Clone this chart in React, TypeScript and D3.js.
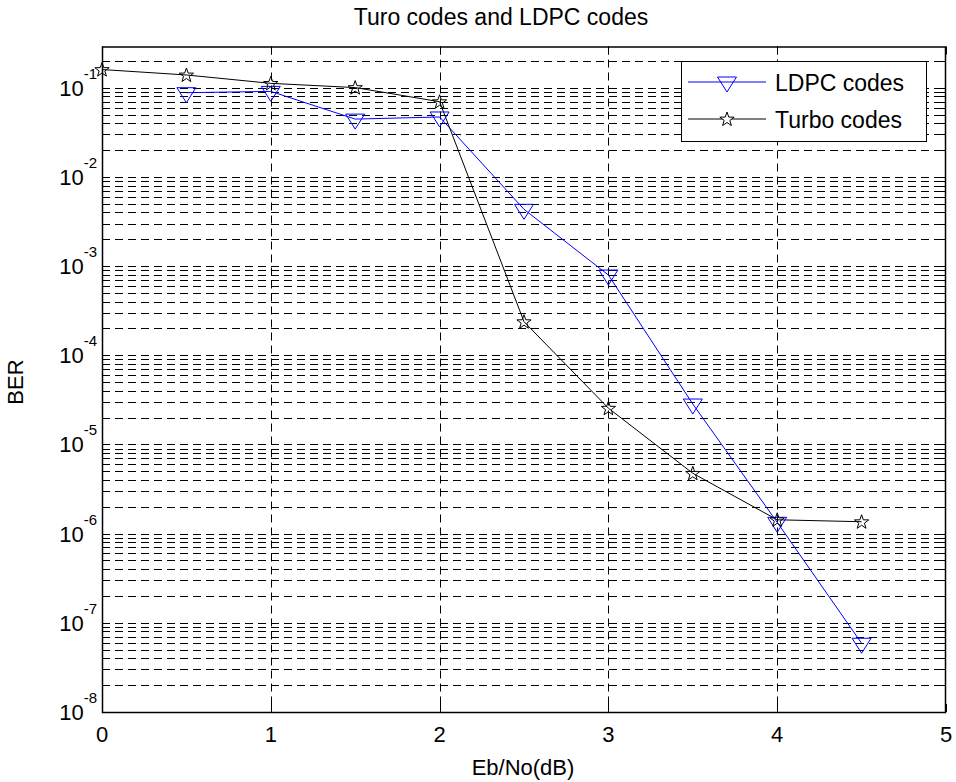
import {useEffect, useRef} from "react";
import * as d3 from "d3";

// Eb/No (dB) values
const turboX = [0, 0.5, 1, 1.5, 2, 2.5, 3, 3.5, 4, 4.5];
const turboBer = [0.16, 0.139, 0.112, 0.1004, 0.0697, 2.38e-4, 2.55e-5, 4.75e-6, 1.43e-6, 1.36e-6];
const ldpcX = [0.5, 1, 1.5, 2, 2.5, 3, 3.5, 4, 4.5];
const ldpcBer = [0.088, 0.091, 0.0445, 0.047, 4.33e-3, 7.94e-4, 2.84e-5, 1.34e-6, 5.9e-8];
const xTicks = [0, 1, 2, 3, 4, 5];
const yExponents = [-8, -7, -6, -5, -4, -3, -2, -1];
const legendNames = ["LDPC codes", "Turbo codes"];

const FONT = "'Liberation Sans', Arial, Helvetica, sans-serif";

const triPath = "M-9.5,-5L9.5,-5L0,10Z";
const starPath = (() => {
    const pts = [];
    for (let i = 0; i < 10; i++) {
        const r = i % 2 === 0 ? 7.5 : 3;
        const a = -Math.PI / 2 + i * Math.PI / 5;
        pts.push([r * Math.cos(a), r * Math.sin(a) + 0.5]);
    }
    return "M" + pts.map(p => p[0].toFixed(2) + "," + p[1].toFixed(2)).join("L") + "Z";
})();

const App = () => {
    const ref = useRef(null);
    const left = 102, right = 946, top = 46.5, bottom = 712;

    useEffect(() => {
        const svg = d3.select(ref.current);
        svg.selectAll("*").remove();

        const x = d3.scaleLinear().domain([0, 5]).range([left, right]);
        const y = d3.scaleLog().domain([1e-8, 0.29]).range([bottom, top]);

        svg.append("rect").attr("x", 0).attr("y", 0).attr("width", 956).attr("height", 782).attr("fill", "white");

        // grid values
        const major = yExponents.map(e => Math.pow(10, e));
        const minor = [];
        yExponents.forEach(e => {
            for (let m = 2; m <= 9; m++) {
                const v = m * Math.pow(10, e);
                if (v < 0.29) minor.push(v);
            }
        });

        const grid = svg.append("g").attr("stroke", "#000").attr("stroke-width", 1)
            .attr("stroke-dasharray", "8,5").attr("fill", "none");
        [...major.slice(1), ...minor].forEach(v => {
            const yy = Math.round(y(v)) + 0.5;
            grid.append("line").attr("x1", left).attr("x2", right).attr("y1", yy).attr("y2", yy);
        });
        xTicks.slice(1, -1).forEach(v => {
            const xx = Math.round(x(v)) + 0.5;
            grid.append("line").attr("x1", xx).attr("x2", xx).attr("y1", top).attr("y2", bottom);
        });

        // tick marks
        const ticks = svg.append("g").attr("stroke", "#000").attr("stroke-width", 1);
        major.forEach(v => {
            const yy = Math.round(y(v)) + 0.5;
            ticks.append("line").attr("x1", left).attr("x2", left + 8).attr("y1", yy).attr("y2", yy);
            ticks.append("line").attr("x1", right).attr("x2", right - 8).attr("y1", yy).attr("y2", yy);
        });
        minor.forEach(v => {
            const yy = Math.round(y(v)) + 0.5;
            ticks.append("line").attr("x1", left).attr("x2", left + 4).attr("y1", yy).attr("y2", yy);
            ticks.append("line").attr("x1", right).attr("x2", right - 4).attr("y1", yy).attr("y2", yy);
        });
        xTicks.forEach(v => {
            const xx = Math.round(x(v)) + 0.5;
            ticks.append("line").attr("x1", xx).attr("x2", xx).attr("y1", bottom).attr("y2", bottom - 8);
            ticks.append("line").attr("x1", xx).attr("x2", xx).attr("y1", top).attr("y2", top + 8);
        });

        // data lines
        const line = d3.line().x(d => x(d[0])).y(d => y(d[1]));
        svg.append("path").datum(ldpcX.map((v, i) => [v, ldpcBer[i]]))
            .attr("d", line).attr("fill", "none").attr("stroke", "#0000ff").attr("stroke-width", 1);
        svg.append("path").datum(turboX.map((v, i) => [v, turboBer[i]]))
            .attr("d", line).attr("fill", "none").attr("stroke", "#000").attr("stroke-width", 1);

        svg.append("g").selectAll("path").data(ldpcX.map((v, i) => [v, ldpcBer[i]])).enter().append("path")
            .attr("d", triPath).attr("transform", d => `translate(${x(d[0])},${y(d[1])})`)
            .attr("fill", "none").attr("stroke", "#0000ff").attr("stroke-width", 1);
        svg.append("g").selectAll("path").data(turboX.map((v, i) => [v, turboBer[i]])).enter().append("path")
            .attr("d", starPath).attr("transform", d => `translate(${x(d[0])},${y(d[1])})`)
            .attr("fill", "none").attr("stroke", "#000").attr("stroke-width", 1);

        // axes box
        svg.append("rect").attr("x", left + 0.5).attr("y", top + 0.5)
            .attr("width", right - left - 1).attr("height", bottom - top)
            .attr("fill", "none").attr("stroke", "#000").attr("stroke-width", 1.5);

        // y tick labels
        yExponents.forEach(e => {
            const yy = y(Math.pow(10, e));
            const t = svg.append("text").attr("x", 97).attr("y", yy + 8).attr("text-anchor", "end")
                .attr("font-family", FONT).attr("font-size", 22).attr("fill", "#000");
            t.append("tspan").text("10");
            t.append("tspan").attr("font-size", 15).attr("dy", -17).text(String(e));
        });

        // x tick labels
        xTicks.forEach(v => {
            svg.append("text").attr("x", x(v)).attr("y", 742).attr("text-anchor", "middle")
                .attr("font-family", FONT).attr("font-size", 22).attr("fill", "#000").text(String(v));
        });

        svg.append("text").attr("x", 523).attr("y", 775).attr("text-anchor", "middle")
            .attr("font-family", FONT).attr("font-size", 22).text("Eb/No(dB)");
        svg.append("text").attr("transform", "translate(23,382) rotate(-90)").attr("text-anchor", "middle")
            .attr("font-family", FONT).attr("font-size", 22).text("BER");
        svg.append("text").attr("x", 501).attr("y", 25).attr("text-anchor", "middle")
            .attr("font-family", FONT).attr("font-size", 23).text("Turo codes and LDPC codes");

        // legend
        const lg = svg.append("g");
        lg.append("rect").attr("x", 681.5).attr("y", 61.5).attr("width", 245).attr("height", 80)
            .attr("fill", "white").attr("stroke", "#000").attr("stroke-width", 1);
        const rows = [82, 119];
        lg.append("line").attr("x1", 688).attr("x2", 766).attr("y1", rows[0]).attr("y2", rows[0])
            .attr("stroke", "#0000ff").attr("stroke-width", 1);
        lg.append("path").attr("d", triPath).attr("transform", `translate(727,${rows[0]})`)
            .attr("fill", "none").attr("stroke", "#0000ff");
        lg.append("line").attr("x1", 688).attr("x2", 766).attr("y1", rows[1]).attr("y2", rows[1])
            .attr("stroke", "#000").attr("stroke-width", 1);
        lg.append("path").attr("d", starPath).attr("transform", `translate(727,${rows[1]})`)
            .attr("fill", "white").attr("stroke", "#000");
        legendNames.forEach((n, i) => {
            lg.append("text").attr("x", 775).attr("y", rows[i] + 9).attr("font-family", FONT)
                .attr("font-size", 23).text(n);
        });
    }, []);

    return <svg ref={ref} width={956} height={782} style={{position: "absolute", left: 0, top: 0}}/>;
};

export default App;
